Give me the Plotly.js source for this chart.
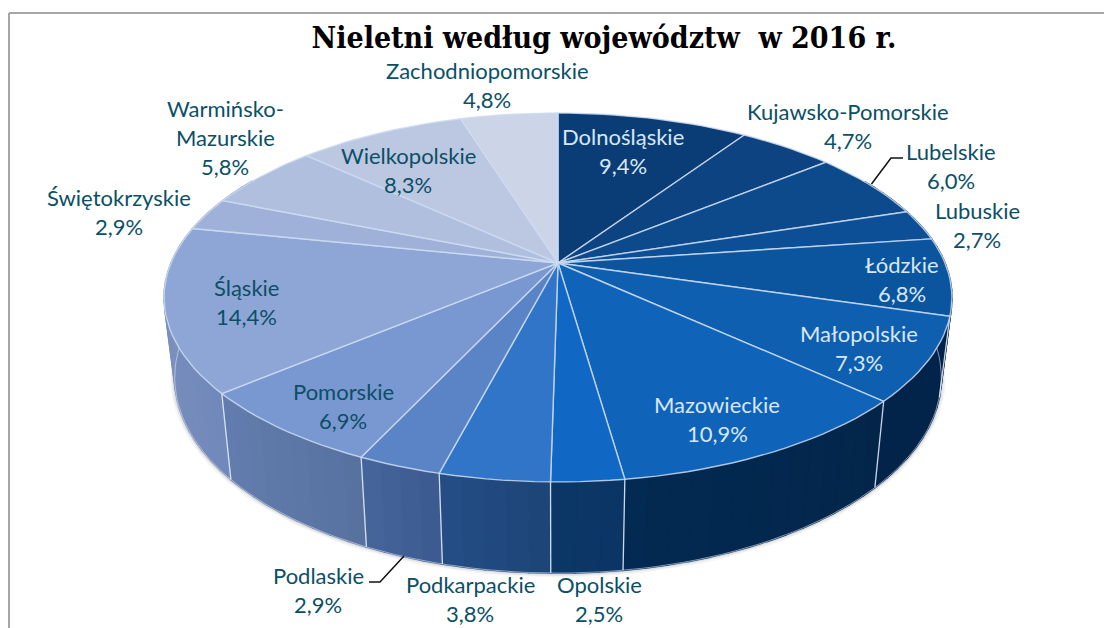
<!DOCTYPE html>
<html>
<head>
<meta charset="utf-8">
<script src="https://cdn.plot.ly/plotly-3.0.1.min.js"></script>
<style>html,body{margin:0;padding:0;background:#fff}#chart{width:1104px;height:628px}</style>
</head>
<body>
<div id="chart"></div>
<script>
// ---- data ----
const regions = ["Dolnośląskie","Kujawsko-Pomorskie","Lubelskie","Lubuskie","Łódzkie","Małopolskie","Mazowieckie","Opolskie","Podkarpackie","Podlaskie","Pomorskie","Śląskie","Świętokrzyskie","Warmińsko-Mazurskie","Wielkopolskie","Zachodniopomorskie"];
const shares = [9.4,4.7,6.0,2.7,6.8,7.3,10.9,2.5,3.8,2.9,6.9,14.4,2.9,5.8,8.3,4.8];
const titleText = "Nieletni według województw\u00a0\u00a0w 2016 r.";

// ---- styles ----
const topColors = ["#0a3d75","#0c4380","#0c4a8c","#0c4f96","#0b559f","#0e5fb0","#0f63b8","#1068c4","#3075c8","#5a84c6","#7997d0","#8ea6d6","#a0b1d9","#b0bfde","#bcc8e2","#ccd4e8"];
const sideStart = ["#02234a","#02234a","#02234a","#02234a","#02234a","#03244a","#03254a","#0a3463","#1c4476","#3b5a8e","#57719f","#7189ba","#7f93be","#7f93be","#7f93be","#7f93be"];
const sideEnd   = ["#02234a","#02234a","#02234a","#02234a","#02234a","#03244a","#032a52","#0b3867","#254e87","#46659c","#637dae","#7f93be","#7f93be","#7f93be","#7f93be","#7f93be"];
const darkText = "#0b4f66", lightText = "#d8e7f8";
const labelColors = [lightText,darkText,darkText,darkText,lightText,lightText,lightText,darkText,darkText,darkText,darkText,darkText,darkText,darkText,darkText,darkText];
const labelLines = regions.map((r,i)=> (r==="Warmińsko-Mazurskie" ? ["Warmińsko-","Mazurskie"] : [r]).concat([shares[i].toFixed(1).replace(".",",")+"%"]));
const labelPos = [[623,136],[848,111],[951,151],[977,210],[902,264],[859,333],[717,404],[599,584],[470,584],[318,575],[343,391],[246,287],[119,197],[225,108],[408,155],[487,70]];
const lineGap = 29;
const leaders = [[[871.5,184],[891,158],[903,158]],[[404,556],[380,582],[369,582]]];

// ---- projection of the tilted disc ----
const cx=558, cy=263, R=387, S=178, K=0.187;
const botSX=0.973, botSY=1.06, botOff=78;
function topPt(t){const u=Math.sin(t),v=Math.cos(t),w=1+K*v;return [cx+R*u/w, cy-S*v/w];}
function botPt(t){const p=topPt(t);return [cx+(p[0]-cx)*botSX, cy+botOff+(p[1]-cy)*botSY];}
const deg=Math.PI/180;
const total=shares.reduce((a,b)=>a+b,0);
const edges=[0];shares.forEach((s,i)=>edges.push(edges[i]+s/total*360));
function hex(c){return [1,3,5].map(i=>parseInt(c.substr(i,2),16));}
function mix(a,b,f){const A=hex(a),B=hex(b);return "rgb("+A.map((x,i)=>Math.round(x+(B[i]-x)*f)).join(",")+")";}
function arc(fn,a,b,n){const p=[];for(let i=0;i<=n;i++)p.push(fn((a+(b-a)*i/n)*deg));return p;}

const traces=[];
function poly(pts,fill,line,width){traces.push({type:"scatter",mode:"lines",x:pts.map(p=>p[0]),y:pts.map(p=>p[1]),
  fill:fill?"toself":"none",fillcolor:fill||undefined,line:{color:line,width:width},hoverinfo:"skip",showlegend:false});}

// soft shadow under the side wall
const shadow=arc(botPt,70,290,120);
[[9,0.05],[6,0.07],[3,0.12]].forEach(s=>poly(shadow,null,"rgba(60,60,60,"+s[1]+")",s[0]));

// side wall
const visA=60, visB=300, step=3;
shares.forEach((s,i)=>{
  const a=Math.max(edges[i],visA), b=Math.min(edges[i+1],visB);
  if(b<=a) return;
  const n=Math.max(1,Math.ceil((b-a)/step));
  for(let k=0;k<n;k++){
    const t0=a+(b-a)*k/n, t1=a+(b-a)*(k+1)/n;
    const col=mix(sideStart[i],sideEnd[i],(k+0.5)/n);
    poly([topPt(t0*deg),topPt(t1*deg),botPt(t1*deg),botPt(t0*deg),topPt(t0*deg)],col,col,1.6);
  }
});
// bottom rim and wall separators
poly(arc(botPt,75,285,120),null,"rgba(215,225,240,0.6)",1);
edges.slice(0,-1).forEach(e=>{
  if(e>100 && e<275) poly([topPt(e*deg),botPt(e*deg)],null,"rgba(225,235,250,0.9)",1.3);
});
// top surface
shares.forEach((s,i)=>{
  const n=Math.max(4,Math.ceil(s/total*180));
  const pts=[[cx,cy]].concat(arc(topPt,edges[i],edges[i+1],n)).concat([[cx,cy]]);
  poly(pts,topColors[i],"rgba(205,220,242,0.85)",1.4);
});
// leader lines
leaders.forEach(l=>poly(l,null,"#111111",1.5));

const annotations=[];
labelLines.forEach((lines,i)=>lines.forEach((t,j)=>annotations.push({
  xref:"x",yref:"y",x:labelPos[i][0],y:labelPos[i][1]+j*lineGap,text:t,showarrow:false,
  xanchor:"center",yanchor:"middle",font:{family:"Lato, 'Open Sans', sans-serif",size:22,color:labelColors[i]}
})));

const layout={
  width:1104,height:628,margin:{l:0,r:0,t:0,b:0},paper_bgcolor:"#fff",plot_bgcolor:"#fff",showlegend:false,
  title:{text:"<b>"+titleText+"</b>",x:604/1104,xref:"paper",xanchor:"center",y:1-37/628,yref:"paper",yanchor:"middle",
    font:{family:"'DejaVu Serif Condensed', 'DejaVu Serif', serif",size:30,color:"#000"}},
  xaxis:{range:[0,1104],visible:false,fixedrange:true},
  yaxis:{range:[628,0],visible:false,fixedrange:true},
  annotations:annotations,
  shapes:[
    {type:"line",xref:"x",yref:"y",x0:9,x1:9,y0:13,y1:628,line:{color:"#a6a6a6",width:2}},
    {type:"line",xref:"x",yref:"y",x0:9,x1:1104,y0:13,y1:13,line:{color:"#a6a6a6",width:2}}
  ]
};
Plotly.newPlot("chart",traces,layout,{displayModeBar:false,staticPlot:true});
</script>
</body>
</html>
